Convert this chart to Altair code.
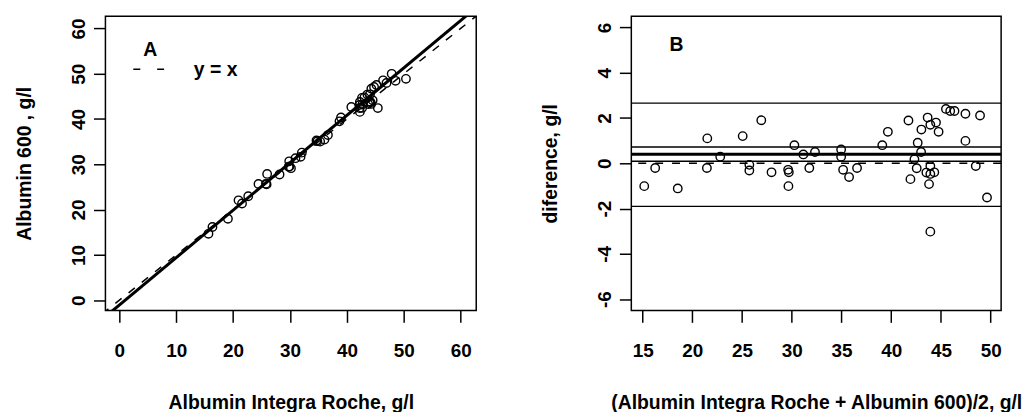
import altair as alt
import pandas as pd

# Panel B data: mean of methods and difference
pair_mean = [15.16, 16.26, 18.53, 21.5, 21.46, 22.8, 25.06, 26.93, 25.73, 25.73,
             27.96, 29.63, 29.7, 29.66, 30.26, 31.16, 31.76, 32.33, 34.96, 34.96,
             35.16, 35.76, 36.56, 39.1, 39.66, 41.73, 41.93, 42.66, 43.0, 43.03,
             42.33, 42.56, 43.66, 43.93, 44.5, 44.76, 43.93, 43.53, 43.93, 44.33,
             43.8, 43.93, 45.5, 45.93, 46.36, 47.46, 47.46, 48.5, 48.93, 49.63]
pair_diff = [-1.01, -0.21, -1.11, 1.10, -0.21, 0.29, 1.20, 1.90, -0.07, -0.32,
             -0.40, -0.29, -0.40, -1.01, 0.80, 0.39, -0.21, 0.50, 0.61, 0.29,
             -0.29, -0.61, -0.21, 0.80, 1.39, 1.89, -0.70, 0.91, 0.50, 1.49,
             0.18, -0.22, 2.02, 1.70, 1.80, 1.39, -0.12, -0.41, -0.47, -0.40,
             -0.92, -3.02, 2.40, 2.31, 2.31, 2.19, 0.99, -0.12, 2.11, -1.51]

x_ticks_a = [0, 10, 20, 30, 40, 50, 60]
y_ticks_a = [0, 10, 20, 30, 40, 50, 60]
x_ticks_b = [15, 20, 25, 30, 35, 40, 45, 50]
y_ticks_b = [-6, -4, -2, 0, 2, 4, 6]

fit_intercept = -1.07
fit_slope = 1.047
mean_diff = 0.40
ci_levels = [0.09, 0.72]
loa_levels = [-1.90, 2.66]

pts = pd.DataFrame({"m": pair_mean, "d": pair_diff})
pts["roche"] = pts["m"] - pts["d"] / 2
pts["a600"] = pts["m"] + pts["d"] / 2

FONT = "Liberation Sans"
W_A, W_B, H = 373, 372, 296

xa = alt.Scale(domain=[-2.45, 62.74], nice=False, zero=False)
ya = alt.Scale(domain=[-2.26, 62.72], nice=False, zero=False)
xb = alt.Scale(domain=[13.86, 51.05], nice=False, zero=False)
yb = alt.Scale(domain=[-6.5, 6.5], nice=False, zero=False)

LABEL_EXPR = "datum.value + ''"


def xaxis(title, vals):
    return alt.Axis(title=title, values=vals, labelBaseline="alphabetic",
                    labelPadding=34, labelFlush=False, labelOverlap=False,
                    labelExpr=LABEL_EXPR,
                    titleY=99, titleBaseline="alphabetic")


def yaxis(title, vals):
    return alt.Axis(title=title, values=vals, labelAngle=270, labelAlign="center",
                    labelBaseline="alphabetic", labelPadding=9, labelFlush=False,
                    labelOverlap=False, labelExpr=LABEL_EXPR,
                    titleAngle=270, titleX=-75, titleY=H / 2,
                    titleAlign="center", titleBaseline="alphabetic")


point_style = dict(shape="circle", filled=False, size=72, strokeWidth=1.4,
                   color="black", opacity=1)

XA_AX = xaxis("Albumin Integra Roche, g/l", x_ticks_a)
YA_AX = yaxis("Albumin 600 , g/l", y_ticks_a)
XB_AX = xaxis("(Albumin Integra Roche + Albumin 600)/2, g/l", x_ticks_b)
YB_AX = yaxis("diference, g/l", y_ticks_b)

# ---- Panel A
a_pts = alt.Chart(pts).mark_point(**point_style).encode(
    x=alt.X("roche:Q", scale=xa, axis=XA_AX),
    y=alt.Y("a600:Q", scale=ya, axis=YA_AX),
)
line_df = pd.DataFrame({"x": [-10.0, 80.0]})
a_fit = alt.Chart(line_df).transform_calculate(
    yf=f"{fit_intercept} + {fit_slope} * datum.x"
).mark_line(color="black", strokeWidth=3, clip=True).encode(
    x=alt.X("x:Q", scale=xa, axis=XA_AX), y=alt.Y("yf:Q", scale=ya, axis=YA_AX))
a_id = alt.Chart(line_df).mark_line(color="black", strokeWidth=1.5, strokeDash=[8, 9],
                                    clip=True).encode(
    x=alt.X("x:Q", scale=xa, axis=XA_AX), y=alt.Y("x:Q", scale=ya, axis=YA_AX))
a_lab = alt.Chart(pd.DataFrame({"t": ["A"]})).mark_text(
    font=FONT, fontSize=19.5, fontWeight="bold", align="left", baseline="alphabetic",
    color="black").encode(x=alt.datum(4.19), y=alt.datum(53.9), text="t:N")
a_leg_line = alt.Chart(pd.DataFrame({"t": ["y = x"]})).mark_rule(
    color="black", strokeWidth=1.5, strokeDash=[7, 17]).encode(
    x=alt.datum(2.45), x2=alt.datum(10.66), y=alt.datum(51.0))
a_leg_txt = alt.Chart(pd.DataFrame({"t": ["y = x"]})).mark_text(
    font=FONT, fontSize=19.5, fontWeight="bold", align="left", baseline="alphabetic",
    color="black").encode(x=alt.datum(13.1), y=alt.datum(49.6), text="t:N")

panel_a = alt.layer(a_pts, a_id, a_fit, a_lab, a_leg_line, a_leg_txt).properties(
    width=W_A, height=H)

# ---- Panel B
b_pts = alt.Chart(pts).mark_point(**point_style).encode(
    x=alt.X("m:Q", scale=xb, axis=XB_AX),
    y=alt.Y("d:Q", scale=yb, axis=YB_AX),
)
b_zero = alt.Chart(pd.DataFrame({"v": [0.0]})).mark_rule(
    color="black", strokeWidth=1.5, strokeDash=[8, 9]).encode(
    y=alt.Y("v:Q", scale=yb, axis=YB_AX))
b_thin = alt.Chart(pd.DataFrame({"v": ci_levels + loa_levels})).mark_rule(
    color="black", strokeWidth=1.3).encode(y=alt.Y("v:Q", scale=yb, axis=YB_AX))
b_mean = alt.Chart(pd.DataFrame({"v": [mean_diff]})).mark_rule(
    color="black", strokeWidth=3).encode(y=alt.Y("v:Q", scale=yb, axis=YB_AX))
b_lab = alt.Chart(pd.DataFrame({"t": ["B"]})).mark_text(
    font=FONT, fontSize=19.5, fontWeight="bold", align="left", baseline="alphabetic",
    color="black").encode(x=alt.datum(17.7), y=alt.datum(4.97), text="t:N")

panel_b = alt.layer(b_pts, b_zero, b_thin, b_mean, b_lab).properties(
    width=W_B, height=H)

chart = alt.hconcat(panel_a, panel_b, spacing=156, bounds="flush").properties(
    padding={"left": 6, "top": 6, "right": 0, "bottom": 0}
).configure_view(stroke="black", strokeWidth=1.5).configure_axis(
    domain=False, grid=False, ticks=True, tickSize=12, tickWidth=1.5,
    tickColor="black", labelColor="black", titleColor="black",
    labelFont=FONT, titleFont=FONT, labelFontSize=19, titleFontSize=19.5,
    labelFontWeight="bold", titleFontWeight="bold"
)

chart.save("out.html", embed_options={"renderer": "svg", "actions": False})
